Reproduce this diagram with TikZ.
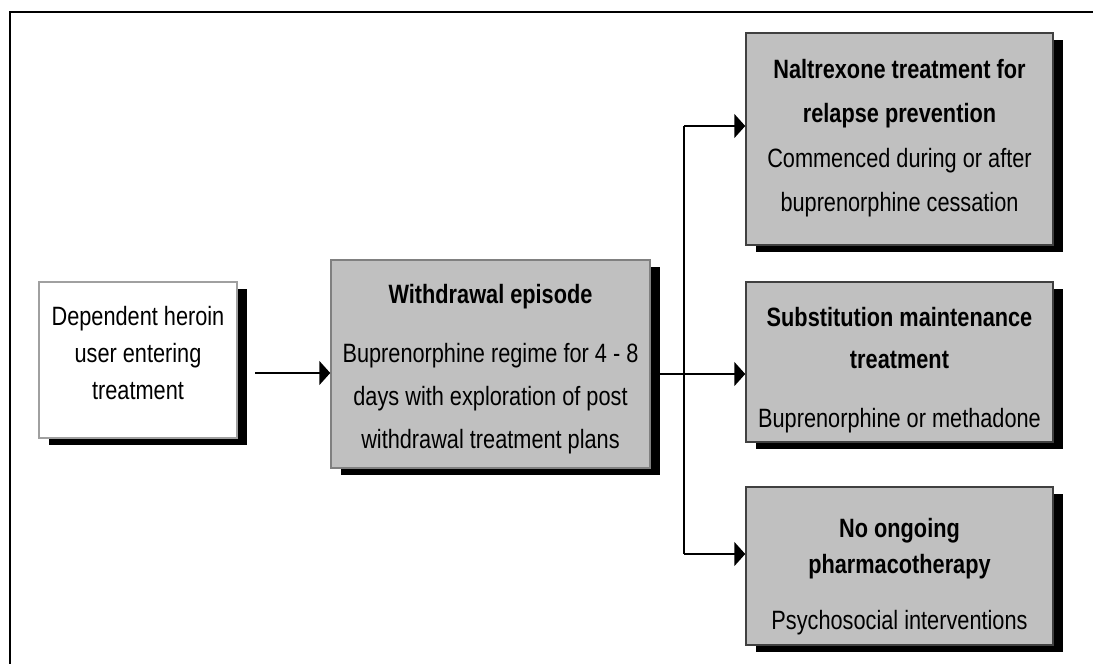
\documentclass[tikz,border=0pt]{standalone}
\usepackage{fontspec}
\setmainfont{Liberation Sans}[FakeStretch=0.82]
\usetikzlibrary{arrows.meta,shadows,calc}
\definecolor{boxgray}{RGB}{192,192,192}
\definecolor{lightedge}{RGB}{160,160,160}
\definecolor{midedge}{RGB}{128,128,128}
\definecolor{darkedge}{RGB}{64,64,64}
\begin{document}
\begin{tikzpicture}[x=1pt,y=-1pt,
  boxbase/.style={rectangle, inner sep=0pt, line width=1.5pt,
    drop shadow={shadow xshift=10pt, shadow yshift=-7pt, fill=black, opacity=1}},
  whitebox/.style={boxbase, draw=lightedge, fill=white},
  graybox/.style={boxbase, draw=midedge, fill=boxgray},
  darkbox/.style={boxbase, draw=darkedge, fill=boxgray, minimum width=307pt},
  txt/.style={align=center, inner sep=0pt, text=black},
  conn/.style={line width=2pt, black},
  arr/.style={conn, -{Triangle[length=11pt,width=24pt]}}
]
\useasboundingbox (0,0) rectangle (1093,664);
\fill[white] (0,0) rectangle (1093,664);
% outer frame (top and left edges visible)
\draw[line width=2pt] (1093,12) -- (9.5,12) -- (9.5,664);

% boxes
\node[whitebox, minimum width=198pt, minimum height=156pt] (l) at (138,360) {};
\node[graybox, minimum width=319pt, minimum height=208pt] (m) at (490.5,364) {};
\node[darkbox, minimum height=212pt] (rt) at (899.5,139) {};
\node[darkbox, minimum height=160pt] (rm) at (899.5,362) {};
\node[darkbox, minimum height=158pt] (rb) at (899.5,566) {};

% texts
\node[txt, font=\fontsize{26.5}{37}\selectfont] (lt) at (138,353.5)
  {Dependent heroin\\user entering\\treatment};
\node[txt, font=\fontsize{26.5}{43}\selectfont] (mt) at (490.5,369)
  {\textbf{Withdrawal episode}\\[16pt]Buprenorphine regime for 4 - 8\\days with exploration of post\\withdrawal treatment plans};
\node[txt, font=\fontsize{26.5}{44.5}\selectfont] (rtt) at (899.5,138)
  {\textbf{Naltrexone treatment for}\\\textbf{relapse prevention}\\Commenced during or after\\buprenorphine cessation};
\node[txt, font=\fontsize{26.5}{42}\selectfont] (rmt) at (899.5,370)
  {\textbf{Substitution maintenance}\\\textbf{treatment}\\[17pt]Buprenorphine or methadone};
\node[txt, font=\fontsize{26.5}{36}\selectfont] (rbt) at (899.5,576.5)
  {\textbf{No ongoing}\\\textbf{pharmacotherapy}\\[20pt]Psychosocial interventions};

% connectors
\coordinate (a0) at (255,373);
\draw[arr] (a0) -- (m.west |- a0);
\coordinate (split) at (684,374);
\coordinate (jt) at (684,126);
\coordinate (jb) at (684,554);
\draw[arr] (m.east |- split) -- (rm.west |- split);
\draw[conn] (jt) -- (jb);
\draw[arr] (jt) -- (rt.west |- jt);
\draw[arr] (jb) -- (rb.west |- jb);
\end{tikzpicture}
\end{document}
